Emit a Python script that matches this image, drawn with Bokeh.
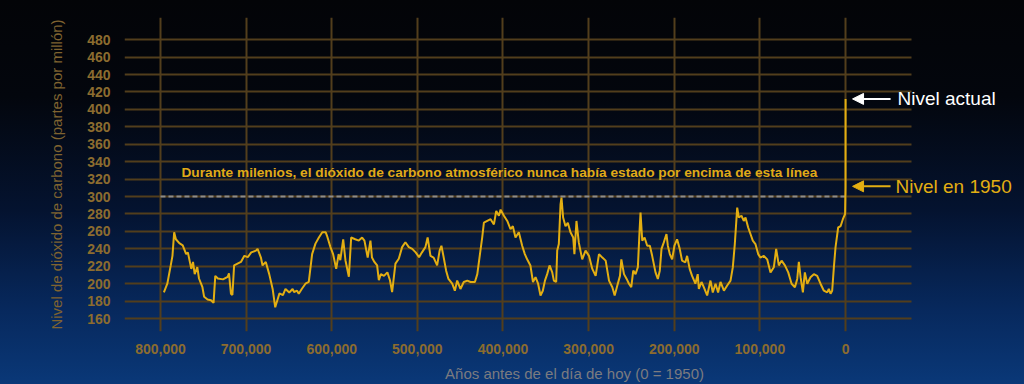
from bokeh.plotting import figure
from bokeh.models import Range1d, FixedTicker, NumeralTickFormatter, Label, Arrow, NormalHead
from bokeh.embed import file_html
from bokeh.resources import INLINE

# ---- data ----
years_k = [
    796, 792, 788, 786, 784, 782, 778, 774, 770, 768, 764, 762, 760, 757, 755, 751, 749, 745, 741, 738,
    736, 733, 727, 721.5, 720, 717.7, 716, 714, 710, 706, 702, 698, 694, 688.5, 686.6, 682.7, 680.8, 677,
    673, 669, 666, 663.5, 661, 657, 654, 649.6, 645.7, 644, 640.5, 638.5, 635, 630.7, 626.8, 622.9, 619,
    615, 611, 607, 605.5, 601.5, 598.4, 594.8, 591.9, 590, 586.6, 584, 580, 577.3, 572.6, 568.4, 564.5,
    561.8, 558, 554.8, 553, 550.2, 547, 545, 542.6, 539, 535, 532, 529.5, 525.6, 521.7, 517.8, 514, 510,
    506, 502, 498, 494.6, 490.6, 488, 484.7, 481, 476.9, 474, 471.9, 469.6, 466.4, 463.7, 459.3, 456.2,
    453.5, 449.7, 445.8, 441.7, 437.9, 432.8, 430, 426.9, 424.3, 422.3, 418.4, 414.5, 410.6, 407.9, 404.8,
    402.8, 398.9, 395, 391.2, 388.5, 385.4, 381.5, 377.6, 374.5, 371.8, 368, 365, 362, 359, 356.2, 353.5,
    351, 348.4, 345.6, 342.5, 340.6, 337.9, 336.7, 334.8, 332.8, 331.7, 329.8, 327, 324.3, 321.2, 318,
    316.6, 314.2, 311.5, 307.5, 303.6, 299.6, 295.7, 291.8, 287.9, 284, 280.1, 276.2, 272.3, 269.6, 266.5,
    263.4, 261.8, 258.7, 255.6, 252.9, 250.2, 247.9, 245.2, 242.5, 240.5, 239.4, 237.4, 234.7, 231.6,
    228.5, 225.8, 221.9, 219.2, 216.9, 214.9, 212.2, 209.1, 207.5, 205.2, 202.5, 199.8, 196.7, 193.6,
    190.9, 187, 185, 182, 179.2, 175.3, 172.6, 171.3, 168.2, 165.5, 161.6, 157.7, 155, 151.8, 148.8, 146,
    142, 138.2, 134.3, 131.6, 129.3, 126.5, 124.6, 121.5, 118.8, 116.8, 113.7, 111, 108.3, 105.2, 102,
    99.4, 95.4, 91.5, 87.6, 83.7, 81, 77.9, 74.7, 70.8, 66.9, 63, 59.1, 56.4, 54.5, 52.5, 49.8, 47.5, 44.7,
    40.9, 37, 33.1, 29.2, 25.3, 21.4, 19.5, 17.5, 15.6, 13.6, 11.7, 8.6, 5.8, 3.1, 0.5, 0.0, -0.07,
]
co2_ppm = [
    190, 200, 221, 232, 259, 251, 246.5, 244, 234, 236, 217, 225, 211, 219, 206, 196, 185, 182, 181, 178,
    209, 206, 205, 208, 212, 188.6, 187, 221, 223, 225, 232, 230.5, 236, 238, 240, 230, 221, 225,
    211, 194, 173, 181, 189, 187, 194, 190, 194, 190.5, 192, 188.6, 194, 200, 202, 234, 246,
    253, 259, 259, 255, 242, 234, 217, 234, 227, 251, 227, 208, 253, 251, 249.5, 253,
    249.5, 230, 249.5, 230, 225, 221, 204, 211, 209, 213, 204, 190.5, 223, 228.6, 242, 247.6, 242,
    240, 236, 230.5, 236, 242, 253, 232, 230, 221, 238, 243.6, 232, 215, 205.5, 200, 192,
    203.6, 194, 202, 203.6, 202, 202, 211, 234, 253, 270, 272, 274, 268, 283.5, 278,
    285, 278, 272, 262.5, 266, 253, 259, 243.6, 234, 228, 221, 202, 207.5, 200, 186.5, 192,
    203.6, 211, 221, 213, 203.6, 202, 238, 245.5, 291, 298.7, 276, 266, 270, 259, 253,
    234, 272, 247.4, 228, 238, 232, 217, 209, 234, 230, 226.5, 203.6, 196, 186.5, 198,
    209, 228, 211, 205.5, 200, 196, 215, 211, 219, 261, 281.6, 249.5, 253, 243.6,
    243.6, 232, 213, 205.5, 215, 240, 247.4, 257, 243.6, 234, 228, 243.6, 251, 240,
    226.5, 224.6, 232, 217, 209, 200, 211, 194, 202, 196, 186.5, 203.6, 190, 200, 190, 202,
    192, 198, 203.6, 219, 245.5, 287.3, 276, 278, 272, 276, 264.5, 257, 249.5, 245.5, 234,
    230, 232, 228, 213, 219, 240, 221, 226.5, 221, 213, 200, 196, 205.5, 225, 207.5, 190, 213, 200,
    207.5, 211, 209, 200, 192, 190, 194, 188.6, 192, 219, 241.7, 264.5, 266, 274, 280, 311, 412,
]
y_tick_values = [160, 180, 200, 220, 240, 260, 280, 300, 320, 340, 360, 380, 400, 420, 440, 460, 480]
x_tick_values = [800000, 700000, 600000, 500000, 400000, 300000, 200000, 100000, 0]
threshold_ppm = 300
threshold_years = [800000, 0]
level_now_ppm = 412
level_1950_ppm = 311.7

x_years = [v * 1000 for v in years_k]

GOLD = "#e3ae12"
TICK = "#8c6c2f"
GRID = "#523e1c"
FONT = "Liberation Sans"

p = figure(
    width=1024, height=384, output_backend="svg", toolbar_location=None,
    x_range=Range1d(842000, -209000), y_range=Range1d(145.2, 505.4),
    min_border_left=124, min_border_right=0, min_border_top=17, min_border_bottom=51,
)
p.styles = {
    "background": "linear-gradient(to bottom, #030407 0%, #03060d 25%, #041330 55%, #07285c 80%, #0a3878 100%)",
}
p.background_fill_color = None
p.border_fill_color = None
p.outline_line_color = None

p.xaxis.ticker = FixedTicker(ticks=x_tick_values)
p.yaxis.ticker = FixedTicker(ticks=y_tick_values)
p.xaxis.formatter = NumeralTickFormatter(format="0,0")

for ax in (p.xaxis[0], p.yaxis[0]):
    ax.axis_line_color = None
    ax.major_tick_line_color = None
    ax.minor_tick_line_color = None
    ax.major_label_text_color = TICK
    ax.major_label_text_font = FONT
    ax.major_label_text_font_size = "14px"
    ax.major_label_text_font_style = "bold"
p.yaxis.major_label_standoff = 8
p.xaxis.major_label_standoff = 6

p.yaxis.axis_label = "Nivel de dióxido de carbono (partes por millón)"
p.yaxis.axis_label_text_font = FONT
p.yaxis.axis_label_text_font_style = "normal"
p.yaxis.axis_label_text_font_size = "15px"
p.yaxis.axis_label_text_color = "#7f6330"
p.yaxis.axis_label_standoff = 19

p.xaxis.axis_label = "Años antes de el día de hoy (0 = 1950)"
p.xaxis.axis_label_text_font = FONT
p.xaxis.axis_label_text_font_style = "normal"
p.xaxis.axis_label_text_font_size = "15px"
p.xaxis.axis_label_text_color = "#7b7b80"
p.xaxis.axis_label_standoff = 8

p.xgrid.grid_line_color = GRID
p.ygrid.grid_line_color = GRID
p.xgrid.grid_line_width = 2
p.ygrid.grid_line_width = 2
p.ygrid.cross_bounds = (-77000, 842000)

# threshold dashed line
p.line(x=threshold_years, y=[threshold_ppm, threshold_ppm], line_color="#8c8c8c",
       line_width=2, line_dash="5 3")

# CO2 series
p.line(x=x_years, y=co2_ppm, line_color=GOLD, line_width=2)

p.add_layout(Label(x=775500, y=327.6, text="Durante milenios, el dióxido de carbono atmosférico nunca había estado por encima de esta línea",
                   text_color="#e0aa17", text_font=FONT, text_font_size="13.7px",
                   text_font_style="bold", text_baseline="middle"))

p.add_layout(Arrow(end=NormalHead(size=11, fill_color="white", line_color="white"),
                   x_start=-52600, y_start=level_now_ppm, x_end=-8200, y_end=level_now_ppm,
                   line_color="white", line_width=2))
p.add_layout(Arrow(end=NormalHead(size=11, fill_color=GOLD, line_color=GOLD),
                   x_start=-52600, y_start=level_1950_ppm, x_end=-8200, y_end=level_1950_ppm,
                   line_color=GOLD, line_width=2))
p.add_layout(Label(x=-60700, y=level_now_ppm, text="Nivel actual", text_color="white",
                   text_font=FONT, text_font_size="19px", text_baseline="middle"))
p.add_layout(Label(x=-58400, y=level_1950_ppm, text="Nivel en 1950", text_color=GOLD,
                   text_font=FONT, text_font_size="19px", text_baseline="middle"))

open("out.html", "w").write(file_html(p, INLINE))
